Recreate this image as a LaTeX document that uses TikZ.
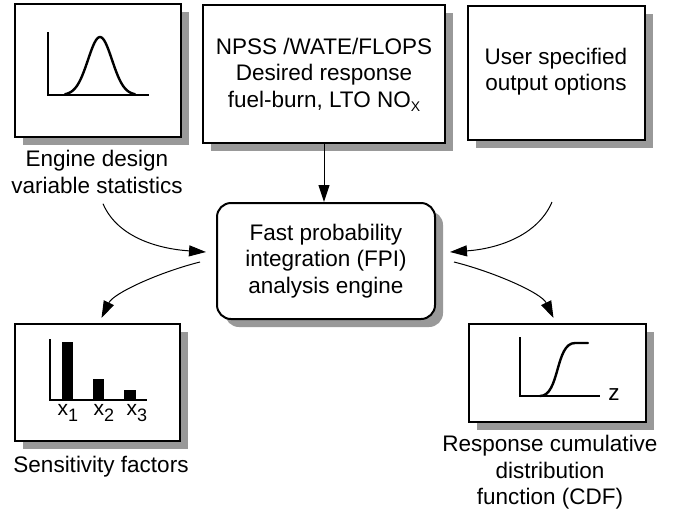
\documentclass[tikz,border=0pt]{standalone}
\usepackage{fontspec}
\setmainfont{Liberation Sans}
\usetikzlibrary{arrows.meta,shadows}

\newcommand{\barlbl}[1]{x\raisebox{-6pt}{\fontsize{18}{18}\selectfont #1}}

\begin{document}
\begin{tikzpicture}[x=1pt,y=-1pt,
  box/.style={draw,line width=2pt,fill=white,inner sep=0pt,
    drop shadow={shadow xshift=8pt,shadow yshift=-8pt,fill=black!40,opacity=1}},
  lbl/.style={align=center,inner sep=0pt,font=\fontsize{22.5}{26.5}\selectfont},
  arr/.style={line width=1pt,-{Triangle[length=17pt,width=11pt]}},
  curve/.style={line width=2.4pt,line cap=round}]
\useasboundingbox (0,0) rectangle (684,515);

% Input boxes
\node[box,minimum width=166pt,minimum height=133pt] (stats) at (98,70.5) {};
\node[box,lbl,minimum width=242pt,minimum height=138pt] (npss) at (324,74)
  {NPSS /WATE/FLOPS\\Desired response\\fuel-burn, LTO NO\raisebox{-4pt}[\height][0pt]{\fontsize{14}{14}\selectfont X}};
\node[box,minimum width=177pt,minimum height=134pt] (user) at (556.5,73) {};
\node[lbl] (usertxt) at (556,71.5) {User specified\\output options};

% Normal distribution sketch
\draw[line width=1.6pt] (48,32) -- (48,95) -- (149,95);
\draw[curve,domain=65:135,samples=60] plot (\x,{95-58*exp(-((\x-100)/12)^2/2)});
\node[lbl] (statslbl) at (97,172) {Engine design\\variable statistics};

% Analysis engine
\node[box,lbl,rounded corners=14pt,minimum width=218pt,minimum height=116pt] (fpi) at (326,261)
  {Fast probability\\integration (FPI)\\analysis engine};

% Output boxes
\node[box,minimum width=165pt,minimum height=117pt] (sens) at (97.5,382.5) {};
\node[box,minimum width=177pt,minimum height=98pt] (cdf) at (557.5,373) {};

% Sensitivity bars
\draw[line width=1.6pt] (50,339) -- (50,400) -- (147,400);
\fill (62,342) rectangle (73,400);
\fill (93,379) rectangle (104,400);
\fill (124,390) rectangle (136,400);
\node[font=\fontsize{21}{21}\selectfont,anchor=base west] (xa) at (54,415) {\barlbl{1}};
\node[font=\fontsize{21}{21}\selectfont,anchor=base west] (xb) at (90,415) {\barlbl{2}};
\node[font=\fontsize{21}{21}\selectfont,anchor=base west] (xc) at (123,415) {\barlbl{3}};
\node[lbl] (senslbl) at (101,467) {Sensitivity factors};

% CDF sketch
\draw[line width=1.6pt] (520,337) -- (520,396) -- (600,396);
\draw[curve] (540,396) .. controls (560,396) and (555,343) .. (575,343) -- (588,343);
\node[lbl,anchor=base] (zlbl) at (614,400) {z};
\node[lbl] (cdflbl) at (550,472.5) {Response cumulative\\distribution\\function (CDF)};

% Connectors
\coordinate (userout) at (552,202);
\draw[arr] (npss.south) -- (npss.south |- fpi.north);
\draw[arr] ([xshift=6pt,yshift=-10pt]statslbl.south) .. controls +(15,35) and +(-45,-3) .. ([xshift=-10pt,yshift=9pt]fpi.west);
\draw[arr] (userout) .. controls +(-15,35) and +(45,-3) .. ([xshift=14pt,yshift=9pt]fpi.east);
\draw[arr] ([xshift=-16pt,yshift=-1pt]fpi.west) .. controls +(-40,10) and +(12,-25) .. ([xshift=4pt,yshift=5pt]sens.north);
\draw[arr] ([xshift=18pt,yshift=-1pt]fpi.east) .. controls +(40,10) and +(-12,-25) .. ([xshift=-4pt,yshift=5pt]cdf.north);
\end{tikzpicture}
\end{document}
